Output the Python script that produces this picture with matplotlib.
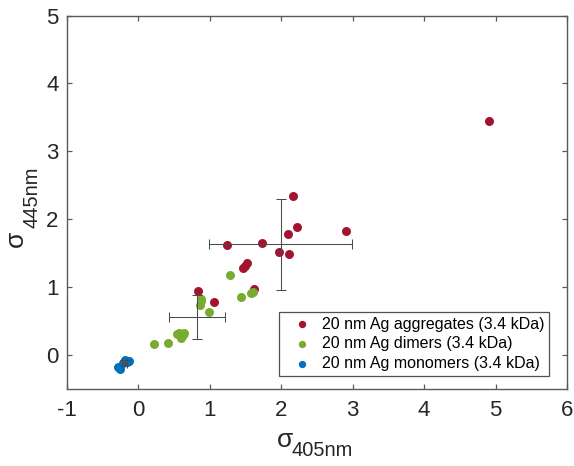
import numpy as np
import matplotlib
matplotlib.use('Agg')
import matplotlib.pyplot as plt

matplotlib.rcParams['font.family'] = ['Liberation Sans', 'DejaVu Sans']
matplotlib.rcParams['axes.unicode_minus'] = False

# aggregates
agg_x = [4.91, 2.16, 2.22, 2.09, 2.90, 1.24, 1.73, 1.97, 2.11, 1.52, 1.47, 1.49, 1.62, 0.83, 1.06]
agg_y = [3.45, 2.34, 1.89, 1.78, 1.83, 1.62, 1.65, 1.52, 1.49, 1.36, 1.28, 1.31, 0.97, 0.95, 0.78]
# dimers
dim_x = [1.28, 1.44, 1.58, 1.60, 0.88, 0.87, 0.86, 0.99, 0.22, 0.41, 0.54, 0.57, 0.64, 0.60, 0.63, 0.59]
dim_y = [1.18, 0.86, 0.91, 0.93, 0.83, 0.79, 0.74, 0.64, 0.17, 0.18, 0.31, 0.32, 0.33, 0.25, 0.29, 0.28]
# monomers
mon_x = [-0.19, -0.13, -0.16, -0.26, -0.29, -0.22]
mon_y = [-0.07, -0.09, -0.10, -0.20, -0.17, -0.12]

# mean +/- std
mean_x = [1.99, 0.82, -0.19]
mean_y = [1.63, 0.56, -0.11]
err_x = [1.00, 0.39, 0.035]
err_y = [0.67, 0.32, 0.035]

labels = ['20 nm Ag aggregates (3.4 kDa)', '20 nm Ag dimers (3.4 kDa)', '20 nm Ag monomers (3.4 kDa)']
colors = ['#A2142F', '#77AC30', '#0072BD']

fig = plt.figure(figsize=(5.74, 4.66), dpi=100)
ax = fig.add_axes([0.1167, 0.1652, 0.8711, 0.8015])

ax.scatter(agg_x, agg_y, s=42, color=colors[0], label=labels[0], zorder=3, linewidths=0)
ax.scatter(dim_x, dim_y, s=42, color=colors[1], label=labels[1], zorder=3, linewidths=0)
ax.scatter(mon_x, mon_y, s=42, color=colors[2], label=labels[2], zorder=3, linewidths=0)

ax.errorbar(mean_x, mean_y, xerr=err_x, yerr=err_y, fmt='none', ecolor='#4a4a4a',
            elinewidth=0.75, capsize=3.5, capthick=0.75, zorder=4)

ax.set_xlim(-1, 6)
ax.set_ylim(-0.5, 5)
ax.set_xticks(np.arange(-1, 7, 1))
ax.set_yticks(np.arange(0, 6, 1))
ax.tick_params(direction='in', top=True, right=True, labelsize=16, length=3.6,
               color='#5a5a5a', labelcolor='#262626', width=0.9)
ax.tick_params(axis='x', pad=8)
ax.tick_params(axis='y', pad=6)
for s in ax.spines.values():
    s.set_color('#5a5a5a')
    s.set_linewidth(1.0)

# axis labels: sigma with a big, low subscript (MATLAB style)
lab_col = '#262626'
fig.text(0.4826, 0.0408, 'σ', fontsize=19, color=lab_col, ha='left', va='baseline')
fig.text(0.5087, 0.0215, '405nm', fontsize=14.5, color=lab_col, ha='left', va='baseline')
fig.text(0.0401, 0.470, 'σ', fontsize=19, color=lab_col, rotation=90,
         rotation_mode='anchor', ha='left', va='baseline')
fig.text(0.0645, 0.5107, '445nm', fontsize=14.5, color=lab_col, rotation=90,
         rotation_mode='anchor', ha='left', va='baseline')

leg = ax.legend(loc='lower right', fontsize=11.5, frameon=True, fancybox=False,
                edgecolor='#262626', handletextpad=0.15, borderpad=0.3,
                labelspacing=0.3, handlelength=2.2, scatterpoints=1,
                borderaxespad=0, bbox_to_anchor=(0.964, 0.035))
leg.get_frame().set_linewidth(0.9)
for h in leg.legend_handles:
    h.set_sizes([28])

fig.savefig('out.png', dpi=100)
